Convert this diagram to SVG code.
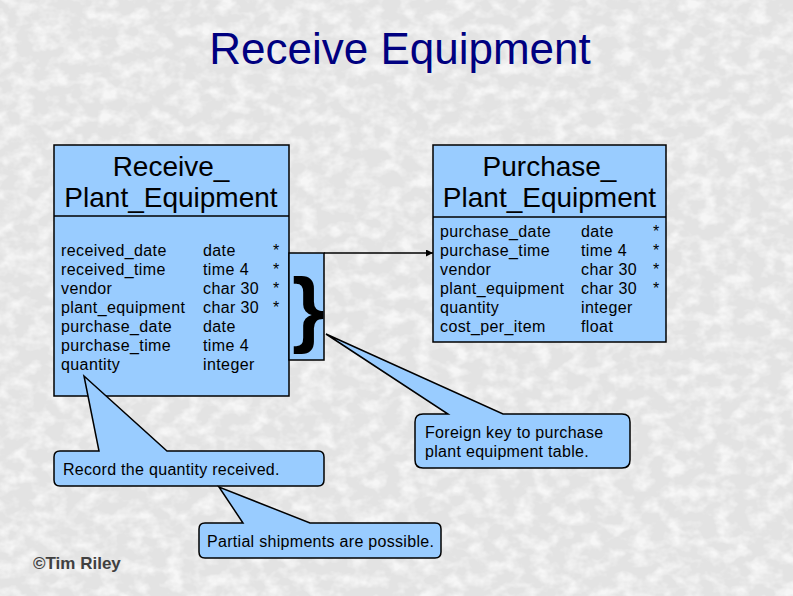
<svg xmlns="http://www.w3.org/2000/svg" width="793" height="596" viewBox="0 0 793 596">
<style>
  .box { fill: #99ccff; stroke: #000; stroke-width: 1.5; }
  .hdr { font-family: "Liberation Sans", Arial, sans-serif; font-size: 28px; fill: #000; text-anchor: middle; }
  .row { font-family: "Liberation Sans", Arial, sans-serif; font-size: 16px; fill: #000; letter-spacing: 0.4px; }
  .note { font-family: "Liberation Sans", Arial, sans-serif; font-size: 16px; fill: #000; letter-spacing: 0.3px; }
  .conn { stroke: #000; stroke-width: 1.5; fill: none; }
</style>
<defs>
  <filter id="tex" x="0" y="0" width="100%" height="100%">
    <feTurbulence type="fractalNoise" baseFrequency="0.06 0.08" numOctaves="3" seed="7"/>
    <feColorMatrix type="matrix" values="0 0 0 0 1  0 0 0 0 1  0 0 0 0 1  0 0 0 2.5 -1.0"/>
  </filter>
  <marker id="arr" viewBox="0 0 10 10" refX="10" refY="5" markerWidth="8" markerHeight="7" markerUnits="userSpaceOnUse" orient="auto">
    <path d="M0,0 L10,5 L0,10 Z" fill="#000"/>
  </marker>
</defs>
<rect x="0" y="0" width="793" height="596" fill="#e3e3e3"/>
<rect x="0" y="0" width="793" height="596" filter="url(#tex)" opacity="0.7"/>

<text x="400" y="64" font-family="Liberation Sans, Arial, sans-serif" font-size="44" fill="#000080" text-anchor="middle">Receive Equipment</text>

<g id="receive-plant-equipment">
  <rect class="box" x="54" y="145" width="235" height="251"/>
  <line x1="54" y1="216" x2="289" y2="216" stroke="#000" stroke-width="1.5"/>
  <text class="hdr" x="171" y="176">Receive_</text>
  <text class="hdr" x="171" y="207">Plant_Equipment</text>
  <text class="row" x="61" y="256">received_date</text>
  <text class="row" x="61" y="275">received_time</text>
  <text class="row" x="61" y="294">vendor</text>
  <text class="row" x="61" y="313">plant_equipment</text>
  <text class="row" x="61" y="332">purchase_date</text>
  <text class="row" x="61" y="351">purchase_time</text>
  <text class="row" x="61" y="370">quantity</text>
  <text class="row" x="203" y="256">date</text>
  <text class="row" x="203" y="275">time 4</text>
  <text class="row" x="203" y="294">char 30</text>
  <text class="row" x="203" y="313">char 30</text>
  <text class="row" x="203" y="332">date</text>
  <text class="row" x="203" y="351">time 4</text>
  <text class="row" x="203" y="370">integer</text>
  <text class="row" x="273" y="256">*</text>
  <text class="row" x="273" y="275">*</text>
  <text class="row" x="273" y="294">*</text>
  <text class="row" x="273" y="313">*</text>
</g>

<g id="foreign-key-brace">
  <rect class="box" x="289" y="253" width="35" height="107"/>
  <text x="292" y="337" font-family="Liberation Sans, Arial, sans-serif" font-size="84" font-weight="bold" fill="#000">}</text>
</g>

<g id="purchase-plant-equipment">
  <rect class="box" x="433" y="145" width="233" height="197"/>
  <line x1="433" y1="217" x2="666" y2="217" stroke="#000" stroke-width="1.5"/>
  <text class="hdr" x="549.5" y="176">Purchase_</text>
  <text class="hdr" x="549.5" y="207">Plant_Equipment</text>
  <text class="row" x="440" y="237">purchase_date</text>
  <text class="row" x="440" y="256">purchase_time</text>
  <text class="row" x="440" y="275">vendor</text>
  <text class="row" x="440" y="294">plant_equipment</text>
  <text class="row" x="440" y="313">quantity</text>
  <text class="row" x="440" y="332">cost_per_item</text>
  <text class="row" x="581" y="237">date</text>
  <text class="row" x="581" y="256">time 4</text>
  <text class="row" x="581" y="275">char 30</text>
  <text class="row" x="581" y="294">char 30</text>
  <text class="row" x="581" y="313">integer</text>
  <text class="row" x="581" y="332">float</text>
  <text class="row" x="653" y="237">*</text>
  <text class="row" x="653" y="256">*</text>
  <text class="row" x="653" y="275">*</text>
  <text class="row" x="653" y="294">*</text>
</g>

<g id="connectors">
  <line class="conn" x1="324" y1="253" x2="433" y2="253" marker-end="url(#arr)"/>
</g>

<g id="note-quantity">
  <path class="box" d="M60,451 L99,451 L84,376 L167,451 L318,451 Q324,451 324,457 L324,480 Q324,486 318,486 L60,486 Q54,486 54,480 L54,457 Q54,451 60,451 Z"/>
  <text class="note" x="63" y="475">Record the quantity received.</text>
</g>

<g id="note-partial">
  <path class="box" d="M205,523 L243,523 L219,487 L310,523 L435,523 Q441,523 441,529 L441,552 Q441,558 435,558 L205,558 Q199,558 199,552 L199,529 Q199,523 205,523 Z"/>
  <text class="note" x="207" y="547">Partial shipments are possible.</text>
</g>

<g id="note-foreign-key">
  <path class="box" d="M423,414 L448,414 L326,334 L503,414 L622,414 Q630,414 630,422 L630,460 Q630,468 622,468 L423,468 Q415,468 415,460 L415,422 Q415,414 423,414 Z"/>
  <text class="note" x="425" y="438">Foreign key to purchase</text>
  <text class="note" x="425" y="457">plant equipment table.</text>
</g>

<text x="33" y="569" font-family="Liberation Sans, Arial, sans-serif" font-size="17" font-weight="bold" fill="#404040">©Tim Riley</text>
</svg>
